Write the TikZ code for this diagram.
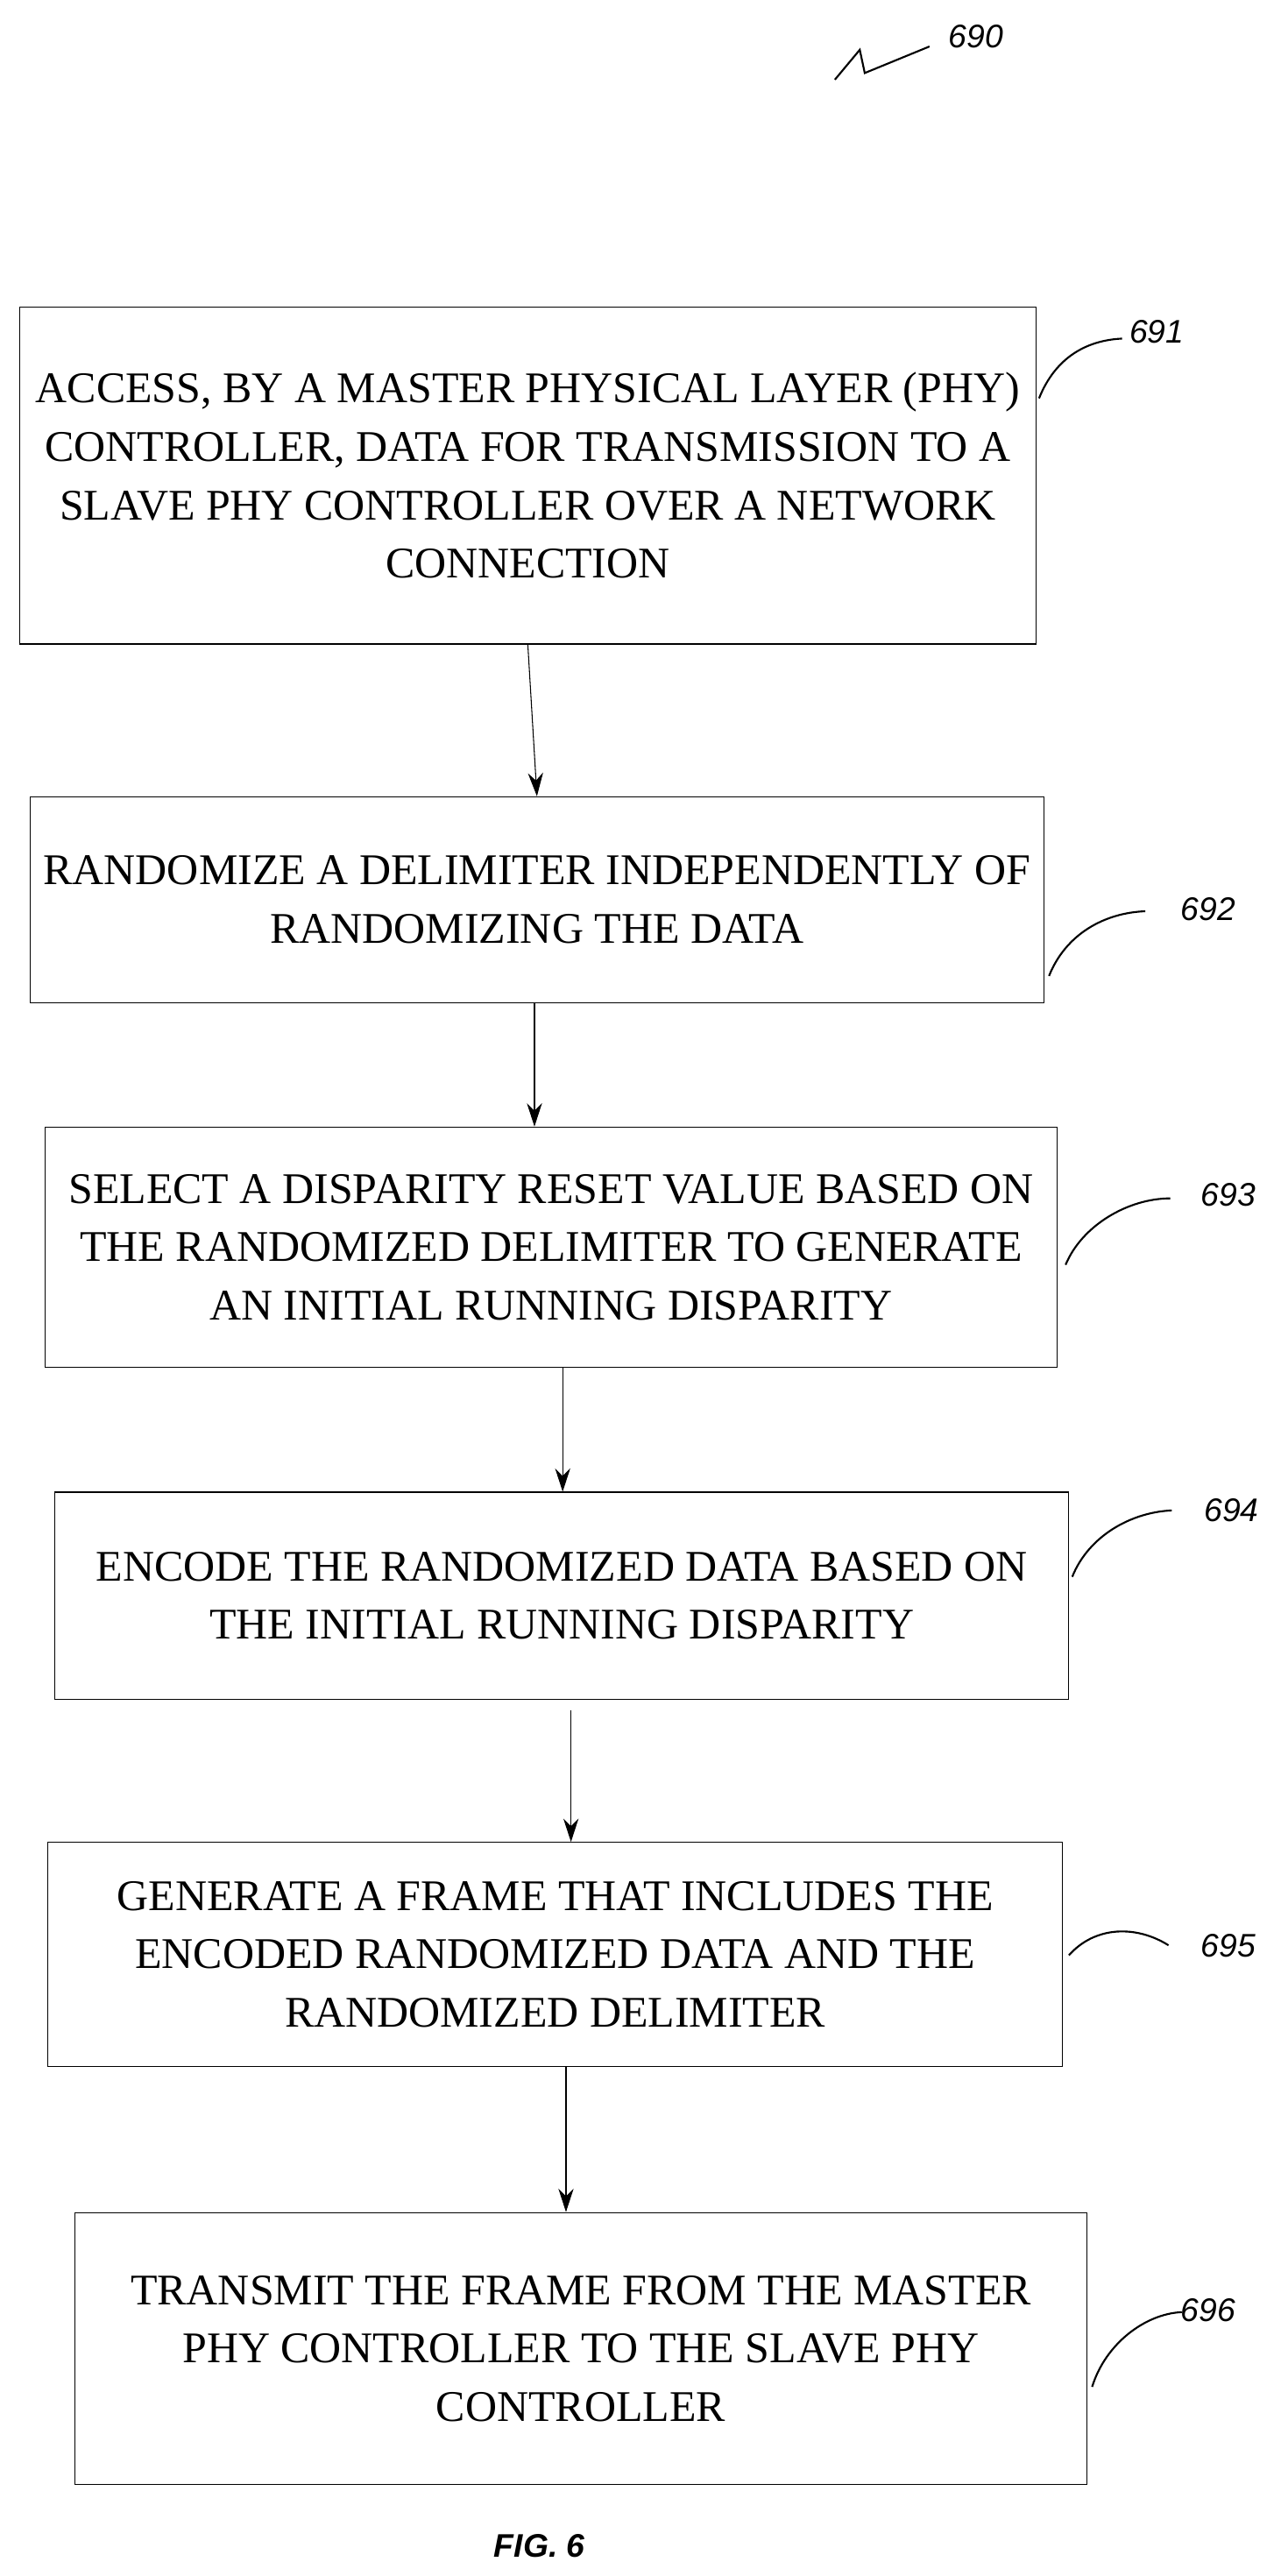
\documentclass[tikz,border=0pt]{standalone}
\usepackage{fontspec}
\setmainfont{Liberation Serif}
\newfontfamily\labelfont{Liberation Sans}
\usetikzlibrary{arrows.meta}

\tikzset{
  procbox/.style={draw, thick, align=center, inner sep=0pt,
    font=\fontsize{37.5}{50}\selectfont},
  flow/.style={thick, -{Stealth[length=20pt,width=13pt]}},
  ref/.style={font=\labelfont\itshape\fontsize{28}{32}\selectfont},
  lead/.style={line width=1.6pt}
}

\begin{document}
\begin{tikzpicture}[x=0.05cm, y=-0.05cm]
  \useasboundingbox (0,0) rectangle (776,1552);

  % process boxes
  \node[procbox, minimum width=30.6cm, minimum height=10.15cm] (s1) at (318,286.5)
    {ACCESS, BY A MASTER PHYSICAL LAYER (PHY)\\CONTROLLER, DATA FOR TRANSMISSION TO A\\SLAVE PHY CONTROLLER OVER A NETWORK\\CONNECTION};
  \node[procbox, minimum width=30.55cm, minimum height=6.2cm] (s2) at (323.5,542)
    {RANDOMIZE A DELIMITER INDEPENDENTLY OF\\RANDOMIZING THE DATA};
  \node[procbox, minimum width=30.5cm, minimum height=7.25cm] (s3) at (332,751.5)
    {SELECT A DISPARITY RESET VALUE BASED ON\\THE RANDOMIZED DELIMITER TO GENERATE\\AN INITIAL RUNNING DISPARITY};
  \node[procbox, minimum width=30.55cm, minimum height=6.25cm] (s4) at (338.5,961.5)
    {ENCODE THE RANDOMIZED DATA BASED ON\\THE INITIAL RUNNING DISPARITY};
  \node[procbox, minimum width=30.55cm, minimum height=6.75cm] (s5) at (334.5,1177.5)
    {GENERATE A FRAME THAT INCLUDES THE\\ENCODED RANDOMIZED DATA AND THE\\RANDOMIZED DELIMITER};
  \node[procbox, minimum width=30.5cm, minimum height=8.2cm] (s6) at (350,1415)
    {TRANSMIT THE FRAME FROM THE MASTER\\PHY CONTROLLER TO THE SLAVE PHY\\CONTROLLER};

  % arrows
  \draw[flow] (s1.south) -- (s2.north);
  \draw[flow] ([xshift=-0.075cm]s2.south) -- ([xshift=-0.075cm]s2.south |- s3.north);
  \draw[flow] ([xshift=0.35cm]s3.south) -- ([xshift=0.35cm]s3.south |- s4.north);
  \draw[flow] ([xshift=0.275cm,yshift=-0.3cm]s4.south) -- ([xshift=0.275cm]s4.south |- s5.north);
  \draw[flow] ([xshift=0.325cm]s5.south) -- ([xshift=0.325cm]s5.south |- s6.north);

  % reference numerals
  \node[ref] (n690) at (588,22) {690};
  \draw[lead] (503,48) -- (518,30) -- (521,44) -- (560,28);
  \node[ref] (n691) at (697,200) {691};
  \draw[lead] (626,240) .. controls (636,215) and (655,205) .. (676,204);
  \node[ref] (n692) at (728,548) {692};
  \draw[lead] (632,588) .. controls (642,563) and (665,550) .. (690,549);
  \node[ref] (n693) at (740,720) {693};
  \draw[lead] (642,762) .. controls (652,738) and (680,722) .. (705,722);
  \node[ref] (n694) at (742,910) {694};
  \draw[lead] (646,950) .. controls (656,925) and (682,911) .. (706,910);
  \node[ref] (n695) at (740,1172) {695};
  \draw[lead] (644,1178) .. controls (660,1160) and (685,1160) .. (704,1172);
  \node[ref] (n696) at (728,1392) {696};
  \draw[lead] (658,1438) .. controls (666,1412) and (690,1394) .. (712,1393);

  \node[font=\labelfont\bfseries\itshape\fontsize{28}{32}\selectfont] (fig) at (325,1534) {FIG. 6};
\end{tikzpicture}
\end{document}
